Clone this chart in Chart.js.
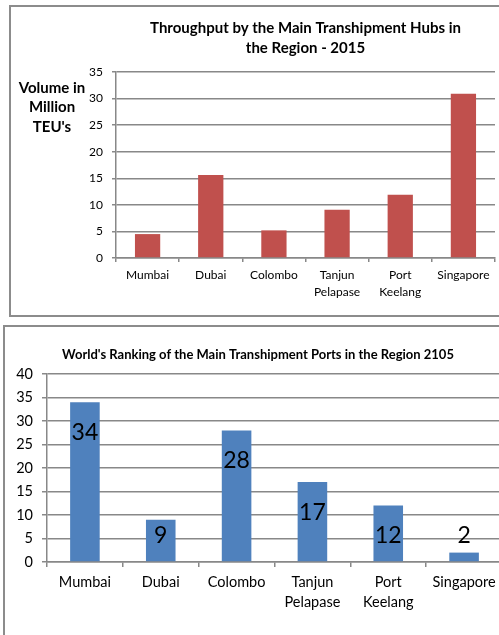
<!DOCTYPE html>
<html lang="en">
<head>
<meta charset="UTF-8">
<title>Transhipment Hubs</title>
<script src="https://cdn.jsdelivr.net/npm/chart.js"></script>
<style>
  html, body { margin: 0; padding: 0; background: #fff; overflow: hidden; }
  body { width: 499px; height: 635px; position: relative; }
  .box { position: absolute; border: 2px solid #8c8c8c; box-sizing: border-box; }
  canvas { position: absolute; }
</style>
</head>
<body>

<div class="box" style="left:9px; top:5px; width:520px; height:312px;"></div>
<div class="box" style="left:3px; top:325px; width:530px; height:330px;"></div>

<canvas id="throughputChart" width="510" height="310" style="left:10px; top:6px;"></canvas>
<canvas id="rankingChart" width="510" height="320" style="left:4px; top:326px;"></canvas>

<script>
// categories (multi-line labels as arrays)
const hubs = ['Mumbai', 'Dubai', 'Colombo', ['Tanjun', 'Pelapase'], ['Port', 'Keelang'], 'Singapore'];

// volume in million TEU's, 2015
const throughput = [4.5, 15.6, 5.2, 9.1, 11.9, 30.9];

// world ranking, 2105 (sic)
const ranking = [34, 9, 28, 17, 12, 2];

const throughputTitle = ['Throughput by the Main Transhipment Hubs in', 'the Region - 2015'];
const throughputAxisTitle = ['Volume in', 'Million', "TEU's"];
const rankingTitle = "World's Ranking of the Main Transhipment Ports in the Region 2105";

const gridColor = '#888888';
const fontFamily = 'Lato, "Open Sans", sans-serif';

// extra texts: title over the plot and the horizontal y axis title
const throughputText = {
  id: 'throughputText',
  afterDraw(chart) {
    const ctx = chart.ctx;
    const area = chart.chartArea;
    ctx.save();
    ctx.fillStyle = '#000';
    ctx.textAlign = 'center';
    ctx.textBaseline = 'middle';
    ctx.font = 'bold 15px ' + fontFamily;
    const cx = (area.left + area.right) / 2;
    throughputTitle.forEach((line, i) => ctx.fillText(line, cx, 22 + i * 20));
    throughputAxisTitle.forEach((line, i) => ctx.fillText(line, 42, 82 + i * 19.5));
    ctx.restore();
  }
};

const rankingText = {
  id: 'rankingText',
  afterDatasetsDraw(chart) {
    const ctx = chart.ctx;
    const meta = chart.getDatasetMeta(0);
    const base = chart.scales.y.getPixelForValue(0);
    ctx.save();
    ctx.fillStyle = '#000';
    ctx.textAlign = 'center';
    ctx.textBaseline = 'middle';
    ctx.font = '23px ' + fontFamily;
    meta.data.forEach((bar, i) => {
      const y = Math.min(bar.y + 30, base - 26);
      ctx.fillText(String(ranking[i]), bar.x, y);
    });
    ctx.font = 'bold 13px ' + fontFamily;
    ctx.fillText(rankingTitle, 254, 29);
    ctx.restore();
  }
};

new Chart(document.getElementById('throughputChart'), {
  type: 'bar',
  data: {
    labels: hubs,
    datasets: [{
      data: throughput,
      backgroundColor: '#C0504D',
      categoryPercentage: 1,
      barPercentage: 0.4
    }]
  },
  options: {
    responsive: false,
    animation: false,
    layout: { padding: { top: 66, right: 25, left: 0, bottom: 0 } },
    plugins: { legend: { display: false }, title: { display: false }, tooltip: { enabled: false } },
    scales: {
      x: {
        afterFit(scale) { scale.height = 58; },
        grid: { drawOnChartArea: false, drawTicks: true, tickLength: 4, color: gridColor, lineWidth: 1.5 },
        border: { color: gridColor, width: 1.5 },
        ticks: { color: '#000', font: { family: fontFamily, size: 12, lineHeight: 1.4 }, padding: 5, maxRotation: 0, autoSkip: false }
      },
      y: {
        min: 0,
        max: 35,
        afterFit(scale) { scale.width = 106; },
        grid: { color: gridColor, lineWidth: 1.5, tickLength: 4 },
        border: { color: gridColor, width: 1.5 },
        ticks: { stepSize: 5, color: '#000', font: { family: fontFamily, size: 12 }, padding: 9 }
      }
    }
  },
  plugins: [throughputText]
});

new Chart(document.getElementById('rankingChart'), {
  type: 'bar',
  data: {
    labels: hubs,
    datasets: [{
      data: ranking,
      backgroundColor: '#4F81BD',
      categoryPercentage: 1,
      barPercentage: 0.39
    }]
  },
  options: {
    responsive: false,
    animation: false,
    layout: { padding: { top: 48, right: 12, left: 0, bottom: 0 } },
    plugins: { legend: { display: false }, title: { display: false }, tooltip: { enabled: false } },
    scales: {
      x: {
        afterFit(scale) { scale.height = 84; },
        grid: { drawOnChartArea: false, drawTicks: true, tickLength: 5, color: gridColor, lineWidth: 1.5 },
        border: { color: gridColor, width: 1.5 },
        ticks: { color: '#000', font: { family: fontFamily, size: 14.5, lineHeight: 1.35 }, padding: 6, maxRotation: 0, autoSkip: false }
      },
      y: {
        min: 0,
        max: 40,
        afterFit(scale) { scale.width = 43; },
        grid: { color: gridColor, lineWidth: 1.5, tickLength: 5 },
        border: { color: gridColor, width: 1.5 },
        ticks: { stepSize: 5, color: '#000', font: { family: fontFamily, size: 14.5 }, padding: 9 }
      }
    }
  },
  plugins: [rankingText]
});
</script>

</body>
</html>
